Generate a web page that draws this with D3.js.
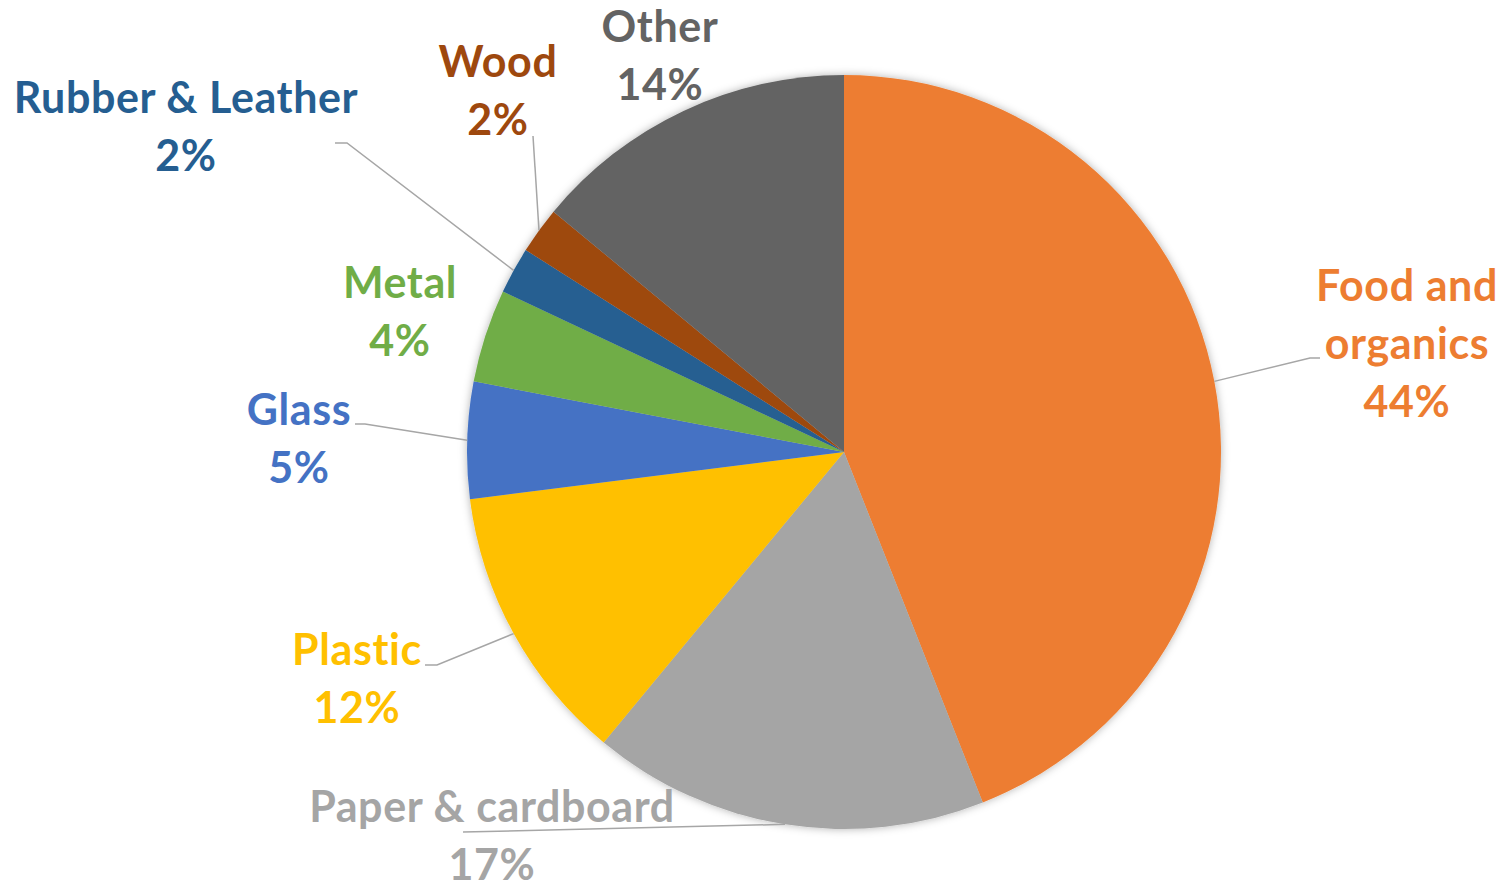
<html>
<head>
<script src="https://cdn.jsdelivr.net/npm/d3@7"></script>
<style>
  body { margin:0; background:#fff; }
  text { font-family: Lato, "Open Sans", sans-serif; font-weight:700; font-variant-ligatures:none; }
</style>
</head>
<body>
<script>
// data
let categories = ["Food and organics", "Paper & cardboard", "Plastic", "Glass", "Metal", "Rubber & Leather", "Wood", "Other"];
let values = [44, 17, 12, 5, 4, 2, 2, 14];
let colors = ["#ED7D31", "#A5A5A5", "#FFC000", "#4472C4", "#70AD47", "#255E91", "#9E480E", "#636363"];
// label text lines (name lines), percent added below
let nameLines = [["Food and", "organics"], ["Paper & cardboard"], ["Plastic"], ["Glass"], ["Metal"], ["Rubber & Leather"], ["Wood"], ["Other"]];

// layout
let screen = {width:1502, height:886};
let center = {x:844, y:452};
let radius = 377;
let fontSize = 43;
let lineH = 58;
// label centre x and first baseline y
let labelPos = [[1407,301],[492,822],[357,665],[299,425],[400,298],[186,113],[498,77],[660,42]];
// leader line elbow points (label side), null = no leader
let leaders = [[[1320,358],[1310,358]], [[463,832]], [[425,665],[437,665]], [[355,424],[365,424]], null, [[335,143],[347,143]], [[533,136]], null];

let svg = d3.select("body").append("svg")
    .attr("width", screen.width)
    .attr("height", screen.height);

let defs = svg.append("defs");
let f = defs.append("filter").attr("id","shadow")
    .attr("x","-10%").attr("y","-10%").attr("width","120%").attr("height","120%");
f.append("feDropShadow").attr("dx",0).attr("dy",0).attr("stdDeviation",4)
    .attr("flood-color","#000").attr("flood-opacity",0.3);

let pie = d3.pie().sort(null).value(d => d);
let arcs = pie(values);
let arc = d3.arc().innerRadius(0).outerRadius(radius);
let edgeArc = d3.arc().innerRadius(radius).outerRadius(radius);

let chart = svg.append("g").attr("transform","translate("+center.x+","+center.y+")");

chart.append("g").attr("filter","url(#shadow)")
    .selectAll("path")
    .data(arcs)
    .enter()
    .append("path")
    .attr("d", arc)
    .attr("fill", (d,i) => colors[i]);

// leader lines
arcs.forEach(function(d,i){
    if(!leaders[i]) return;
    let c = edgeArc.centroid(d);
    let pts = leaders[i].map(p => [p[0]-center.x, p[1]-center.y]);
    pts.push(c);
    chart.append("path")
        .attr("d", d3.line()(pts))
        .attr("fill","none")
        .attr("stroke","#A6A6A6")
        .attr("stroke-width",1.5);
});

// labels
let labels = svg.append("g");
categories.forEach(function(name,i){
    let lines = nameLines[i].concat([values[i]+"%"]);
    let t = labels.append("text")
        .attr("text-anchor","middle")
        .attr("font-size",fontSize)
        .attr("letter-spacing",0.6)
        .attr("fill",colors[i]);
    lines.forEach(function(l,j){
        t.append("tspan")
            .attr("x",labelPos[i][0])
            .attr("y",labelPos[i][1]+j*lineH)
            .text(l);
    });
});
</script>
</body>
</html>
